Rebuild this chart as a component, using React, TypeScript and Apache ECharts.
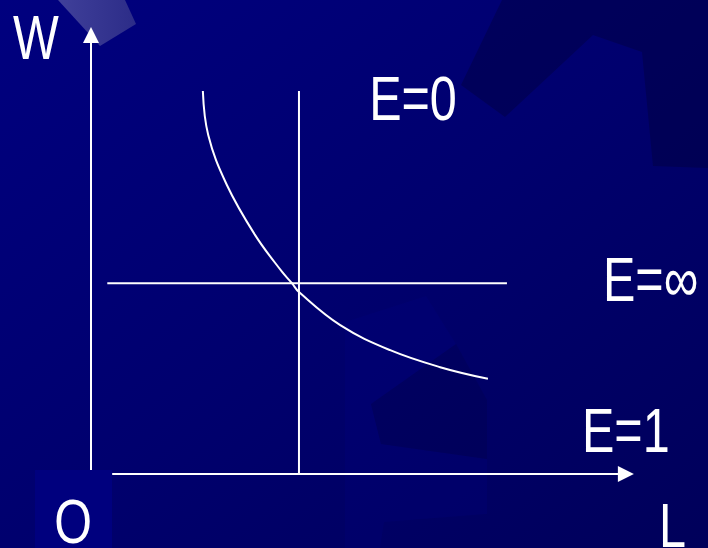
import React, { useEffect, useRef } from "react";
import * as echarts from "echarts";

// Demand curve W(L) (axis units 0..10)
const curveL = [2.06, 2.16, 2.5, 3.02, 3.52, 3.7, 3.83, 4.59, 5.51, 6.43, 7.31];
const curveW = [8.57, 7.58, 6.47, 5.35, 4.52, 4.27, 4.07, 3.33, 2.77, 2.39, 2.13];

// Reference lines
const verticalL = [3.83, 3.83];
const verticalW = [0, 8.57];
const horizontalL = [0.3, 7.66];
const horizontalW = [4.27, 4.27];

// Axis arrows (start, end)
const axisWPoints = [[0, 0.09], [0, 9.82]];
const axisLPoints = [[0.39, 0], [9.85, 0]];

// Texts
const axisNames = { w: "W", o: "O", l: "L" };
const elasticityLabels = ["E=0", "E=∞", "E=1"];

const FONT = '63px "Liberation Sans", Arial, Helvetica, sans-serif';

export default function App() {
  const ref = useRef<HTMLDivElement>(null);

  useEffect(() => {
    if (!ref.current) return;
    const chart = echarts.init(ref.current, undefined, { renderer: "svg" });

    const txt = (text: string, x: number, y: number, align: string) => ({
      type: "text",
      x,
      y,
      scaleX: 0.77,
      z: 10,
      style: {
        text,
        fill: "#ffffff",
        font: FONT,
        textAlign: align,
        textVerticalAlign: "middle",
      },
    });

    chart.setOption({
      animation: false,
      backgroundColor: "#000070",
      grid: { left: 91, right: 74, top: 27, bottom: 74 },
      xAxis: { type: "value", min: 0, max: 10, show: false },
      yAxis: { type: "value", min: 0, max: 10, show: false },
      graphic: [
        {
          type: "rect",
          z: -100,
          shape: { x: 0, y: 0, width: 708, height: 548 },
          style: {
            fill: new echarts.graphic.LinearGradient(0, 0, 1, 1, [
              { offset: 0, color: "#00007f" },
              { offset: 0.5, color: "#00006e" },
              { offset: 1, color: "#00005a" },
            ]),
          },
        },
        {
          type: "polygon",
          z: -90,
          shape: { points: [[502, 0], [708, 0], [708, 168], [653, 166], [642, 52], [593, 35], [505, 117], [461, 85]] },
          style: { fill: "rgba(0,0,50,0.35)" },
        },
        {
          type: "polygon",
          z: -90,
          shape: { points: [[426, 296], [456, 344], [371, 404], [381, 444], [487, 459], [487, 514], [384, 522], [380, 548], [345, 548], [345, 322]] },
          style: { fill: "rgba(0,0,140,0.16)" },
        },
        {
          type: "polygon",
          z: -90,
          shape: { points: [[371, 404], [381, 444], [487, 459], [487, 400], [456, 344]] },
          style: { fill: "rgba(0,0,40,0.14)" },
        },
        {
          type: "polygon",
          z: -90,
          shape: { points: [[58, 0], [125, 0], [136, 24], [100, 46]] },
          style: {
            fill: new echarts.graphic.LinearGradient(0, 0, 1, 0, [
              { offset: 0, color: "#40409a" },
              { offset: 1, color: "#2c2c88" },
            ]),
          },
        },
        {
          type: "rect",
          z: -90,
          shape: { x: 35, y: 470, width: 77, height: 78 },
          style: { fill: "#00007e" },
        },
        txt(axisNames.w, 36, 37, "center"),
        txt(axisNames.o, 73, 521, "center"),
        txt(axisNames.l, 659, 525, "left"),
        txt(elasticityLabels[0], 413, 98, "center"),
        txt(elasticityLabels[1], 603, 279, "left"),
        txt(elasticityLabels[2], 582, 430, "left"),
      ],
      series: [
        {
          type: "line",
          name: "curve",
          data: curveL.map((l, i) => [l, curveW[i]]),
          smooth: 0.4,
          symbol: "none",
          silent: true,
          lineStyle: { color: "#ffffff", width: 2 },
        },
        {
          type: "line",
          name: "vertical",
          data: verticalL.map((l, i) => [l, verticalW[i]]),
          symbol: "none",
          silent: true,
          lineStyle: { color: "#ffffff", width: 2 },
        },
        {
          type: "line",
          name: "horizontal",
          data: horizontalL.map((l, i) => [l, horizontalW[i]]),
          symbol: "none",
          silent: true,
          lineStyle: { color: "#ffffff", width: 2 },
          markLine: {
            silent: true,
            symbol: ["none", "triangle"],
            symbolSize: [16, 16],
            label: { show: false },
            lineStyle: { color: "#ffffff", width: 2, type: "solid" },
            itemStyle: { color: "#ffffff" },
            data: [
              [{ coord: axisWPoints[0] }, { coord: axisWPoints[1] }],
              [{ coord: axisLPoints[0] }, { coord: axisLPoints[1] }],
            ],
          },
        },
      ],
    });

    return () => chart.dispose();
  }, []);

  return (
    <div
      ref={ref}
      style={{ position: "fixed", left: 0, top: 0, width: 708, height: 548 }}
    />
  );
}
